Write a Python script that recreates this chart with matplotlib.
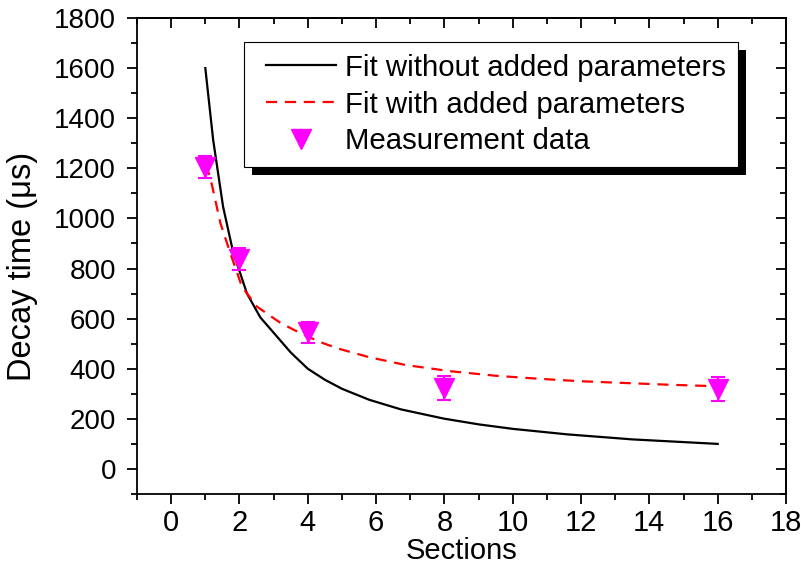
import matplotlib
matplotlib.use("Agg")
import matplotlib.pyplot as plt
from matplotlib.ticker import MultipleLocator
from matplotlib.patches import Rectangle
from matplotlib.lines import Line2D
from matplotlib.legend_handler import HandlerLine2D

plt.rcParams['font.family'] = ['Liberation Sans', 'DejaVu Sans']

# Black fit (without added parameters)
fit1_x = [1.0, 1.23, 1.52, 1.82, 2.0, 2.22, 2.61, 3.1, 3.5, 4.0, 4.5, 5.0, 5.8, 6.72, 7.98, 9.0, 10.0, 11.6, 13.5, 16.0]
fit1_y = [1600, 1313, 1047, 862, 790, 700, 605, 528, 465, 400, 356, 320, 276, 238, 201, 178, 160, 138, 118, 100]

# Red dashed fit (with added parameters)
fit2_x = [1.0, 1.14, 1.44, 1.73, 2.07, 2.51, 3.2, 3.84, 4.43, 4.9, 5.8, 6.86, 8.18, 9.5, 10.76, 12.0, 13.3, 14.6, 16.0]
fit2_y = [1215, 1167, 982, 862, 728, 648, 583, 538, 503, 480, 446, 415, 390, 372, 360, 350, 343, 336, 330]

# Measurement data
meas_x = [1, 2, 4, 8, 16]
meas_y = [1205, 838, 545, 322, 318]
meas_err = [45, 45, 42, 48, 48]

legend_labels = ['Fit without added parameters', 'Fit with added parameters', 'Measurement data']

fig = plt.figure(figsize=(8.01, 5.70), dpi=100)
ax = fig.add_axes([137/801, 1-494/570, (786-137)/801, (494-18)/570])

l1, = ax.plot(fit1_x, fit1_y, color='black', lw=1.6)
l2, = ax.plot(fit2_x, fit2_y, color='red', lw=1.6, ls=(0, (5, 3.5)))
ax.errorbar(meas_x, meas_y, yerr=meas_err, fmt='v', color='magenta', ms=14,
            mec='magenta', mfc='magenta', elinewidth=1.5, capsize=5, capthick=1.5, zorder=5)
h3 = Line2D([], [], ls='none', marker='v', ms=14, color='magenta')

ax.set_xlim(-1, 18)
ax.set_ylim(-100, 1800)
ax.xaxis.set_major_locator(MultipleLocator(2))
ax.xaxis.set_minor_locator(MultipleLocator(1))
ax.yaxis.set_major_locator(MultipleLocator(200))
ax.yaxis.set_minor_locator(MultipleLocator(100))

ax.tick_params(axis='both', which='major', direction='out', length=7, width=1.3, labelsize=20,
               top=False, right=False)
ax.tick_params(axis='y', which='major', pad=8)
ax.tick_params(axis='x', which='major', pad=4, labelsize=21)
ax.tick_params(axis='both', which='minor', direction='out', length=4, width=1.3, top=False, right=False)

axt = ax.secondary_xaxis('top')
axt.xaxis.set_major_locator(MultipleLocator(2))
axt.xaxis.set_minor_locator(MultipleLocator(1))
axt.tick_params(which='major', direction='in', length=7, width=1.3, labeltop=False)
axt.tick_params(which='minor', direction='in', length=4, width=1.3)
axt.set_xticklabels([])
axr = ax.secondary_yaxis('right')
axr.yaxis.set_major_locator(MultipleLocator(200))
axr.yaxis.set_minor_locator(MultipleLocator(100))
axr.tick_params(which='major', direction='in', length=7, width=1.3, labelright=False)
axr.tick_params(which='minor', direction='in', length=4, width=1.3)
axr.set_yticklabels([])

for a in (ax, axt, axr):
    for s in a.spines.values():
        s.set_linewidth(1.3)

ax.set_xlabel('Sections', fontsize=21, labelpad=0)
ax.set_ylabel('Decay time (μs)', fontsize=23.5)
ax.yaxis.set_label_coords(-0.1525, 0.479)


class ShiftedHandler(HandlerLine2D):
    def adjust_drawing_area(self, legend, orig_handle, xdescent, ydescent, width, height, fontsize):
        shift = 7.5
        return xdescent - shift, ydescent, width - shift, height


fs = 21.2
leg = ax.legend(handles=[l1, l2, h3], labels=legend_labels,
                handler_map={Line2D: ShiftedHandler()},
                loc='upper left',
                bbox_to_anchor=(244/801, 1-42/570), bbox_transform=fig.transFigure,
                fontsize=fs, frameon=True, fancybox=False, edgecolor='black',
                framealpha=1, handlelength=(50 + 7.5) / fs, handletextpad=0.33, borderpad=0.4,
                labelspacing=0.3, borderaxespad=0)
leg.get_frame().set_linewidth(0.8)
leg.set_zorder(10)

fig.canvas.draw()
bb = leg.get_window_extent()
off = 8
shadow = Rectangle((bb.x0 + off, bb.y0 - off), bb.width, bb.height,
                   transform=None, facecolor='black', edgecolor='none', zorder=9)
fig.add_artist(shadow)
leg.remove()
fig.add_artist(leg)

fig.savefig('out.png', dpi=100)
